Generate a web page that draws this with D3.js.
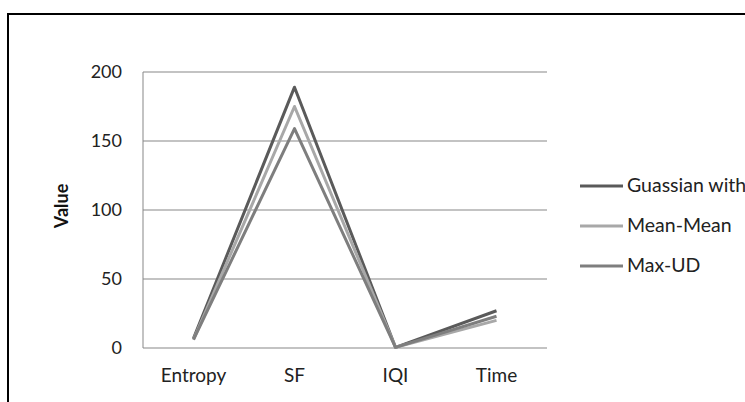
<!DOCTYPE html>
<html><head><meta charset="utf-8">
<script src="https://cdn.jsdelivr.net/npm/d3@7"></script>
<style>body{margin:0;background:#fff}svg{display:block}text{font-family:Lato,"Open Sans",sans-serif}</style>
</head><body>
<svg id="c" width="745" height="402"></svg>
<script>
const categories = ["Entropy", "SF", "IQI", "Time"];
const seriesNames = ["Guassian with", "Mean-Mean", "Max-UD"];
const guassian = [7, 189, 0.5, 27];
const meanMean = [6, 175, 0.5, 20];
const maxUD = [6, 159, 0.5, 23];
const yTicks = [0, 50, 100, 150, 200];
const colors = ["#5a5a5a", "#a8a8a8", "#7e7e7e"];
const series = [guassian, meanMean, maxUD];

const svg = d3.select("#c");
svg.append("rect").attr("x", 8).attr("y", 14).attr("width", 745).attr("height", 400)
  .attr("fill", "#fff").attr("stroke", "#000").attr("stroke-width", 2);

const m = {l:143, t:72, r:547, b:348};
const x = d3.scaleBand().domain(categories).range([m.l, m.r]);
const y = d3.scaleLinear().domain([0, 200]).range([m.b, m.t]);

const g = svg.append("g");
g.selectAll("line.grid").data(yTicks).join("line").attr("class","grid")
  .attr("x1", m.l).attr("x2", m.r).attr("y1", d=>y(d)).attr("y2", d=>y(d))
  .attr("stroke", "#878787").attr("stroke-width", 1);
g.append("line").attr("x1", m.l).attr("x2", m.l).attr("y1", m.t).attr("y2", m.b)
  .attr("stroke", "#878787");

const yAxis = svg.append("g").attr("transform", `translate(${m.l},0)`)
  .call(d3.axisLeft(y).tickValues(yTicks).tickSize(0).tickPadding(21));
yAxis.select(".domain").remove();
yAxis.selectAll("text").attr("font-size", 18).attr("fill", "#222");

const xAxis = svg.append("g").attr("transform", `translate(0,${m.b})`)
  .call(d3.axisBottom(x).tickSize(0).tickPadding(21));
xAxis.select(".domain").remove();
xAxis.selectAll("text").attr("font-size", 19).attr("fill", "#222");

svg.append("text").attr("transform", `translate(68,206) rotate(-90)`)
  .attr("text-anchor", "middle").attr("font-size", 18).attr("font-weight", "bold")
  .attr("fill", "#111").text("Value");

const line = d3.line().x((d,i)=>x(categories[i]) + x.bandwidth()/2).y(d=>y(d));
series.forEach((s, k) => {
  svg.append("path").attr("d", line(s)).attr("fill", "none")
    .attr("stroke", colors[k]).attr("stroke-width", 3).attr("stroke-linejoin", "round");
});

const leg = svg.append("g");
seriesNames.forEach((n, k) => {
  const yy = 186 + k * 40;
  leg.append("line").attr("x1", 580).attr("x2", 623).attr("y1", yy).attr("y2", yy)
    .attr("stroke", colors[k]).attr("stroke-width", 3);
  leg.append("text").attr("x", 627).attr("y", yy + 6).attr("font-size", 19.5)
    .attr("fill", "#222").text(n);
});
</script>
</body></html>
